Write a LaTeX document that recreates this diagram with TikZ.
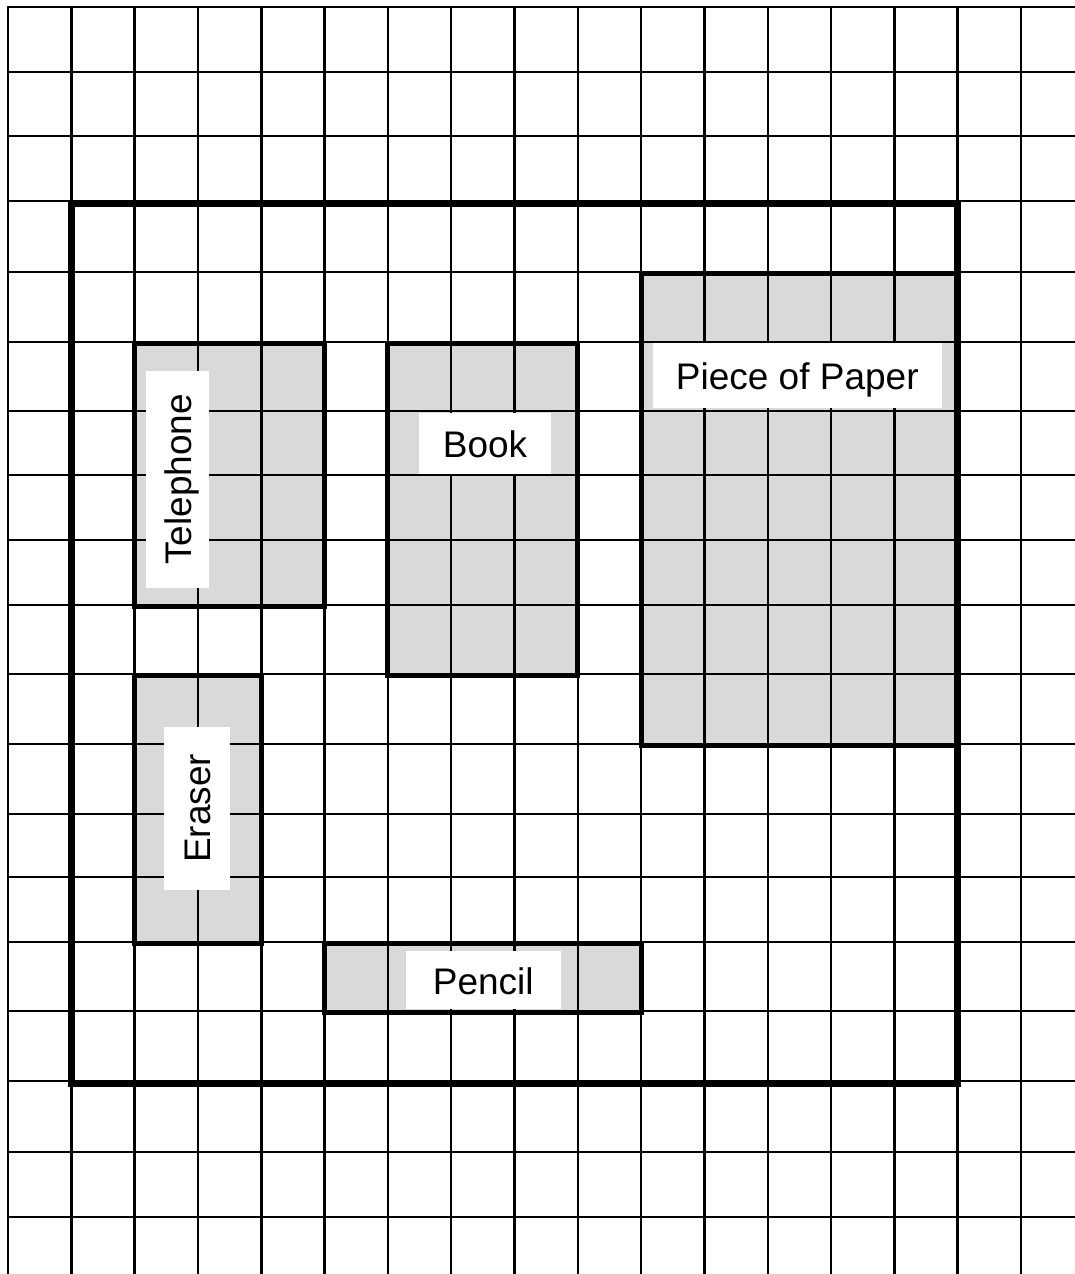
\documentclass[tikz,border=0pt]{standalone}
\usepackage{fontspec}
\setmainfont{Liberation Sans}
\definecolor{deskGray}{HTML}{D9D9D9}
\tikzset{
  desk grid/.style={draw=black, line width=2.5pt, line cap=rect},
  desk board/.style={draw=black, line width=7pt},
  desk item/.style={draw=black, line width=5pt},
  desk fill/.style={fill=deskGray},
  desk label/.style={fill=white, inner sep=0pt, text height=35pt, text depth=7pt,
    font=\fontsize{37}{44}\selectfont},
}

\begin{document}
\begin{tikzpicture}[x=1pt, y=-1pt]
  \useasboundingbox (0,0) rectangle (1074,1274);

  % Shaded items
  \fill[desk fill] (134.6,343.5) rectangle (324.6,606.5);   % telephone
  \fill[desk fill] (387.9,343.5) rectangle (577.8,675.5);   % book
  \fill[desk fill] (641.1,273.5) rectangle (957.7,745.5);   % paper
  \fill[desk fill] (134.6,675.5) rectangle (261.3,943.5);   % eraser
  \fill[desk fill] (324.6,943.5) rectangle (641.1,1012.5);  % pencil

  % Grid
  \foreach \i in {0,...,16}
    \draw[desk grid] (8+63.3125*\i, 7) -- (8+63.3125*\i, 1274);
  \foreach \y in {7,72,136,201,272,342,411,475,540,605,674,744,814,877,942,1011,1081,1152,1217}
    \draw[desk grid] (8,\y) -- (1074,\y);

  % Labels
  \node[desk label, rotate=90, minimum width=217pt, minimum height=63pt] (telephone) at (177.5,479.5) {Telephone};
  \node[desk label, minimum width=132pt, minimum height=61pt] (book) at (485,443) {Book};
  \node[desk label, minimum width=289pt, minimum height=65pt] (paper) at (797.3,375) {Piece of Paper};
  \node[desk label, rotate=90, minimum width=163pt, minimum height=66pt] (eraser) at (196.5,808.5) {Eraser};
  \node[desk label, minimum width=155pt, minimum height=58pt] (pencil) at (483.3,980) {Pencil};

  % Outlines
  \draw[desk item] (134.6,343.5) rectangle (324.6,606.5);
  \draw[desk item] (387.9,343.5) rectangle (577.8,675.5);
  \draw[desk item] (641.1,273.5) rectangle (957.7,745.5);
  \draw[desk item] (134.6,675.5) rectangle (261.3,943.5);
  \draw[desk item] (324.6,943.5) rectangle (641.1,1012.5);
  \draw[desk board] (71.3,203.5) rectangle (957.7,1083.5);
\end{tikzpicture}
\end{document}
